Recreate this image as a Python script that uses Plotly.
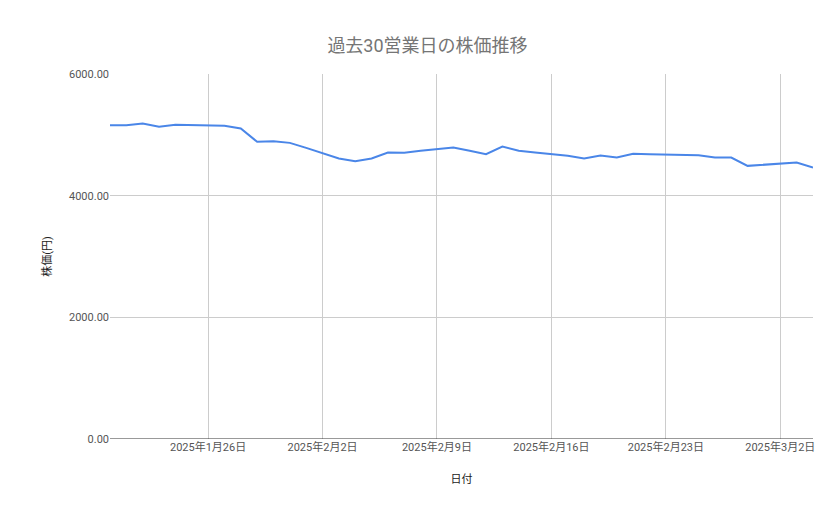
import pandas as pd
import plotly.graph_objects as go

# Daily closing prices, 2025-01-20 .. 2025-03-04
dates = pd.date_range("2025-01-20", "2025-03-04", freq="D")
prices = [5159, 5159, 5186, 5132, 5164, 5159, 5153, 5148, 5104, 4885,
          4896, 4868, 4786, 4698, 4611, 4567, 4611, 4709, 4704, 4737,
          4764, 4792, 4737, 4682, 4808, 4737, 4709, 4682, 4655, 4611,
          4660, 4627, 4688, 4682, 4677, 4671, 4666, 4627, 4627, 4490,
          4507, 4529, 4545, 4463]

tick_dates = ["2025-01-26", "2025-02-02", "2025-02-09", "2025-02-16",
              "2025-02-23", "2025-03-02"]
tick_labels = ["2025年1月26日", "2025年2月2日", "2025年2月9日", "2025年2月16日",
               "2025年2月23日", "2025年3月2日"]

fig = go.Figure(go.Scatter(x=dates, y=prices, mode="lines",
                           line=dict(color="#4a86e8", width=2)))

fig.update_layout(
    width=839, height=519,
    title=dict(text="過去30営業日の株価推移", x=0.5, y=0.94,
               font=dict(size=18, color="#757575")),
    font=dict(family="Roboto, Noto Sans CJK JP", size=11, color="#555"),
    plot_bgcolor="white", paper_bgcolor="white",
    margin=dict(l=102, r=34, t=66, b=88),
    showlegend=False,
)
fig.update_xaxes(range=[dates[0], dates[-1]], tickvals=tick_dates, ticktext=tick_labels,
                 showgrid=True, gridcolor="#cccccc", showline=False, zeroline=False,
                 title=dict(text="日付", font=dict(size=11, color="#222"), standoff=22))
fig.update_yaxes(range=[0, 6000], tickvals=[0, 2000, 4000, 6000], tickformat=".2f",
                 showgrid=True, gridcolor="#cccccc", zeroline=False, showline=False,
                 title=dict(text="株価(円)", font=dict(size=11, color="#222")))
# baseline
fig.add_hline(y=0, line=dict(color="#333", width=1))

fig.write_html("out.html")
